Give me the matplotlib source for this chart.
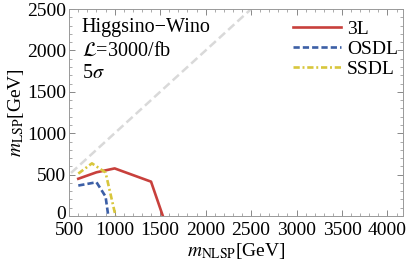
import numpy as np
import matplotlib
matplotlib.use('Agg')
import matplotlib.pyplot as plt
import matplotlib.transforms as mtransforms
from matplotlib.ticker import MultipleLocator

# data
x_3l = [600, 800, 1000, 1400, 1530]
y_3l = [450, 528, 575, 415, 0]
x_osdl = [600, 800, 900, 930]
y_osdl = [368, 408, 235, 0]
x_ssdl = [600, 750, 900, 1010]
y_ssdl = [512, 636, 525, 0]
diag = [520, 2500]

xticks = [500, 1000, 1500, 2000, 2500, 3000, 3500, 4000]
yticks = [0, 500, 1000, 1500, 2000, 2500]
info = ['Higgsino\u2212Wino', r'$\mathcal{L}$=3000/fb', r'5$\sigma$']

plt.rcParams['font.family'] = ['Liberation Serif', 'DejaVu Serif']
plt.rcParams['mathtext.fontset'] = 'stix'
plt.rcParams['lines.scale_dashes'] = False

fs = 14
fig = plt.figure(figsize=(4.07, 2.67), dpi=100)
ax = fig.add_axes([0.170, 0.191, 0.820, 0.775])

ax.plot(diag, diag, color='#d9d9d9', lw=1.8, dashes=(6, 3))
ax.plot(x_3l, y_3l, color='#c8403c', lw=1.9, label='3L')
ax.plot(x_osdl, y_osdl, color='#3c5fa6', lw=1.9, dashes=(4.5, 2.2), label='OSDL')
ax.plot(x_ssdl, y_ssdl, color='#d8c63c', lw=1.9, dashes=(4.5, 2, 1.4, 2), label='SSDL')

ax.set_xlim(500, 4170)
ax.set_ylim(0, 2500)
ax.set_xticks(xticks)
ax.set_yticks(yticks)
ax.xaxis.set_minor_locator(MultipleLocator(100))
ax.yaxis.set_minor_locator(MultipleLocator(100))
ax.tick_params(which='both', direction='in', top=True, right=True,
               color='#888888', labelsize=fs)
ax.tick_params(axis='x', pad=4.5)
ax.tick_params(axis='y', pad=2)
ax.tick_params(which='major', length=4, width=0.7)
ax.tick_params(which='minor', length=2, width=0.5)
for s in ax.spines.values():
    s.set_color('#999999')
    s.set_linewidth(0.7)

# nudge the bottom "0" up a little so it clears the "500" below it
fig.canvas.draw()
lab0 = ax.get_yticklabels()[0]
lab0.set_transform(lab0.get_transform() +
                   mtransforms.ScaledTranslation(0, 2.5 / 72, fig.dpi_scale_trans))

ax.set_xlabel(r'$m_{\rm NLSP}$[GeV]', fontsize=fs, labelpad=1)
ax.set_ylabel(r'$m_{\rm LSP}$[GeV]', fontsize=fs, labelpad=1)

for t, yy in zip(info, [0.912, 0.795, 0.690]):
    ax.text(0.038, yy, t, transform=ax.transAxes, fontsize=14.5, va='center')

ax.legend(loc='upper right', bbox_to_anchor=(1.0, 0.97), frameon=False,
          fontsize=fs, handlelength=2.5, handletextpad=0.3,
          labelspacing=0.13, borderaxespad=0.05, borderpad=0.2)

fig.savefig('out.png', dpi=100)
